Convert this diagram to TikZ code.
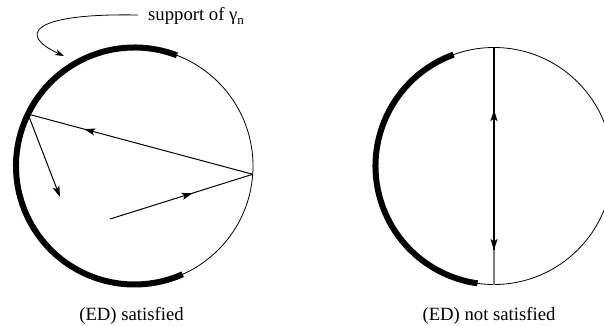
\documentclass[tikz,border=0pt]{standalone}
\usepackage{fontspec}
\setmainfont{Liberation Serif}
\usetikzlibrary{arrows.meta,decorations.markings,calc}
\tikzset{
  tipA/.tip={Stealth[length=11pt,width=7pt,inset=2.5pt]},
  thin circ/.style={line width=0.8pt},
  supp/.style={line width=6pt,line cap=butt},
  chord/.style={line width=1pt},
  midarrow/.style={postaction={decorate},decoration={markings,mark=at position #1 with {\arrow{tipA}}}},
  lbl/.style={font=\fontsize{18.7}{20}\selectfont,inner sep=0pt,anchor=base}
}
\begin{document}
\begin{tikzpicture}[x=1pt,y=1pt]
\useasboundingbox (0,0) rectangle (604,325);
% left circle
\coordinate (cL) at (134.5,159);
\draw[thin circ] (cL) circle (118.5);
\draw[supp] ($(cL)+(69:118.5)$) arc (69:294:118.5);
\coordinate (P) at ($(cL)+(154:118.5)$);
\coordinate (Q) at ($(cL)+(-4:118.5)$);
\coordinate (D) at (60,128);
\coordinate (S) at (110,106);
\draw[chord,midarrow=0.75] (Q) -- (P);
\draw[chord,-{tipA}] (P) -- (D);
\draw[chord,midarrow=0.58] (S) -- (Q);
% annotation
\node[lbl,anchor=base west] (sup) at (148,305) {support of γ\raisebox{-4pt}{\fontsize{13}{13}\selectfont n}};
\coordinate (supTip) at (64,269);
\draw[line width=0.8pt,-{Stealth[length=9pt,width=6pt,inset=2.5pt]}] (138,310) .. controls (30,312) and (18,290) .. (supTip);
\node[lbl] (l1) at (131.5,5) {(ED) satisfied};
% right circle
\coordinate (cR) at (494,159);
\draw[thin circ] (cR) circle (118.5);
\draw[supp] ($(cR)+(110:118.5)$) arc (110:262:118.5);
\coordinate (T) at ($(cR)+(90:118.5)$);
\coordinate (B) at ($(cR)+(-90:118.5)$);
\coordinate (M) at (494,75);
\draw[line width=1.2pt,gray] (M) -- (B);
\draw[line width=1.8pt,-{tipA}] (T) -- (M);
\draw[line width=1.8pt,midarrow=0.691] (M) -- (T);
\node[lbl] (l2) at (489,5) {(ED) not satisfied};
\end{tikzpicture}
\end{document}
